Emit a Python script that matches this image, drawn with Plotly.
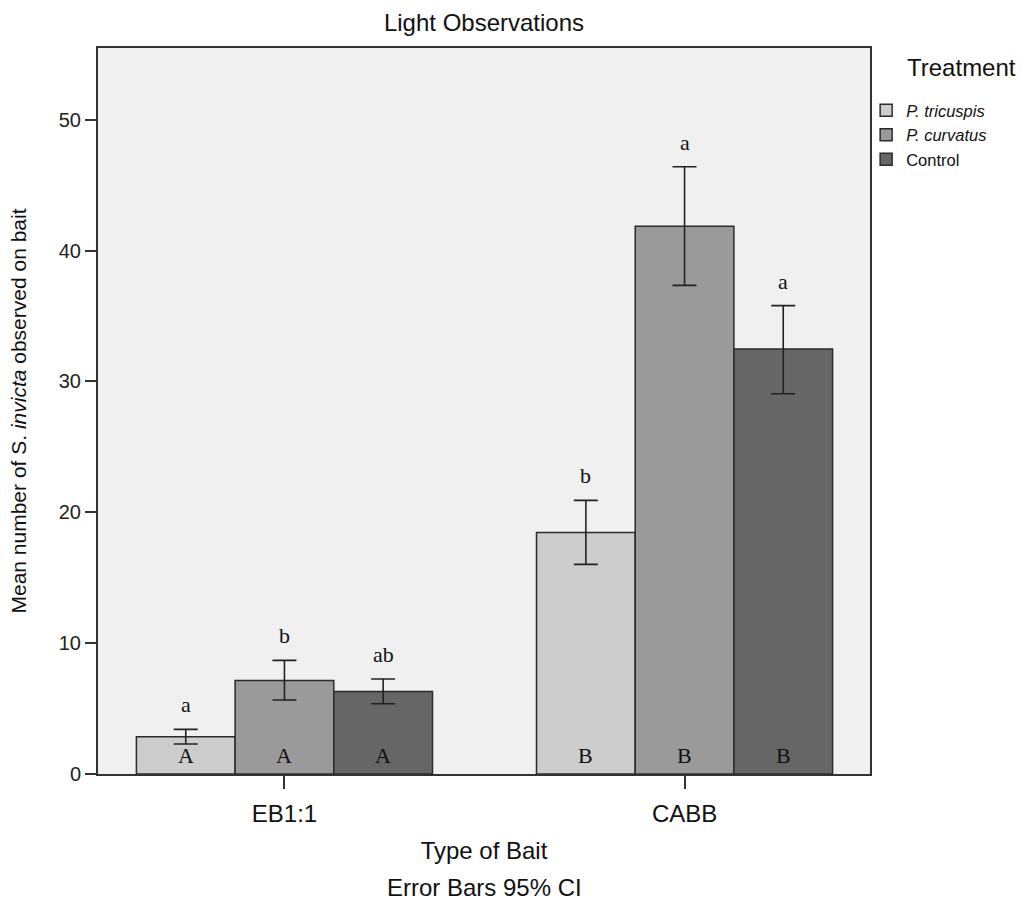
import plotly.graph_objects as go

# ---- data ----
baits = ["EB1:1", "CABB"]
treatments = ["<i>P. tricuspis</i>", "<i>P. curvatus</i>", "Control"]
colors = ["#cdcdcd", "#9a9a9a", "#666666"]
means = {
    "<i>P. tricuspis</i>": [2.85, 18.46],
    "<i>P. curvatus</i>": [7.15, 41.85],
    "Control": [6.31, 32.48],
}
ci_low = {
    "<i>P. tricuspis</i>": [2.29, 16.02],
    "<i>P. curvatus</i>": [5.65, 37.34],
    "Control": [5.37, 29.06],
}
ci_high = {
    "<i>P. tricuspis</i>": [3.41, 20.91],
    "<i>P. curvatus</i>": [8.68, 46.41],
    "Control": [7.26, 35.79],
}
letters_upper = {
    "<i>P. tricuspis</i>": ["a", "b"],
    "<i>P. curvatus</i>": ["b", "a"],
    "Control": ["ab", "a"],
}
letters_lower = ["A", "B"]
y_ticks = [0, 10, 20, 30, 40, 50]

SANS = "Liberation Sans, Arial, sans-serif"
SERIF = "Liberation Serif, Times New Roman, serif"
bargap = 0.26
nT = len(treatments)
w = (1 - bargap) / nT

x_idx = list(range(len(baits)))
fig = go.Figure()
for i, t in enumerate(treatments):
    m = means[t]
    fig.add_trace(go.Bar(
        x=x_idx, y=m, name=t,
        marker=dict(color=colors[i], line=dict(color="#2b2b2b", width=1.5)),
        error_y=dict(type="data", symmetric=False,
                     array=[h - v for h, v in zip(ci_high[t], m)],
                     arrayminus=[v - l for v, l in zip(m, ci_low[t])],
                     color="#222222", thickness=1.6, width=12),
        legendgroup=t,
    ))

annotations = []
for i, t in enumerate(treatments):
    for j in x_idx:
        xc = j + (i - (nT - 1) / 2) * w
        annotations.append(dict(x=xc, y=ci_high[t][j], xref="x", yref="y",
                                text=letters_upper[t][j], showarrow=False,
                                yanchor="bottom", yshift=10,
                                font=dict(family=SERIF, size=22, color="#111111")))
        annotations.append(dict(x=xc, y=0, xref="x", yref="y",
                                text=letters_lower[j], showarrow=False,
                                yanchor="bottom", yshift=4,
                                font=dict(family=SERIF, size=22, color="#111111")))

annotations.append(dict(x=1.118, y=0.9725, xref="paper", yref="paper", text="Treatment",
                        showarrow=False, xanchor="center", yanchor="middle",
                        font=dict(family=SANS, size=24, color="#111111")))
annotations.append(dict(x=0.5, y=(774 - 888) / 726, xref="paper", yref="paper",
                        text="Error Bars 95% CI",
                        showarrow=False, xanchor="center", yanchor="middle",
                        font=dict(family=SANS, size=24, color="#111111")))

fig.update_layout(
    width=1021, height=907,
    margin=dict(l=98, r=151, t=48, b=133),
    paper_bgcolor="white", plot_bgcolor="#f0f0f0",
    barmode="group", bargap=bargap, bargroupgap=0,
    font=dict(family=SANS, color="#111111"),
    title=dict(text="Light Observations", x=0.5, xref="paper", xanchor="center",
               y=1 - 23 / 907, yref="container", yanchor="middle",
               font=dict(family=SANS, size=24, color="#111111")),
    legend=dict(x=0.995, y=0.938, xanchor="left", yanchor="top",
                traceorder="grouped", tracegroupgap=0,
                font=dict(family=SANS, size=16.5, color="#111111"),
                bgcolor="rgba(0,0,0,0)"),
    annotations=annotations,
)
fig.update_xaxes(
    range=[-0.466, 1.4635], tickvals=x_idx, ticktext=baits,
    ticks="outside", ticklen=13, tickwidth=2, tickcolor="#333333",
    ticklabelstandoff=4,
    showline=True, linecolor="#333333", linewidth=2, mirror=True,
    showgrid=False, zeroline=False,
    tickfont=dict(family=SANS, size=24, color="#111111"),
    title=dict(text="Type of Bait", standoff=16,
               font=dict(family=SANS, size=24, color="#111111")),
)
fig.update_yaxes(
    range=[0, 55.48], tickvals=y_ticks,
    ticks="outside", ticklen=11, tickwidth=2, tickcolor="#333333",
    showline=True, linecolor="#333333", linewidth=2, mirror=True,
    showgrid=False, zeroline=False,
    tickfont=dict(family=SANS, size=20, color="#222222"),
    title=dict(text="Mean number of S. <i>invicta</i> observed on bait", standoff=26,
               font=dict(family=SANS, size=21, color="#111111")),
)

fig.write_html("out.html")
